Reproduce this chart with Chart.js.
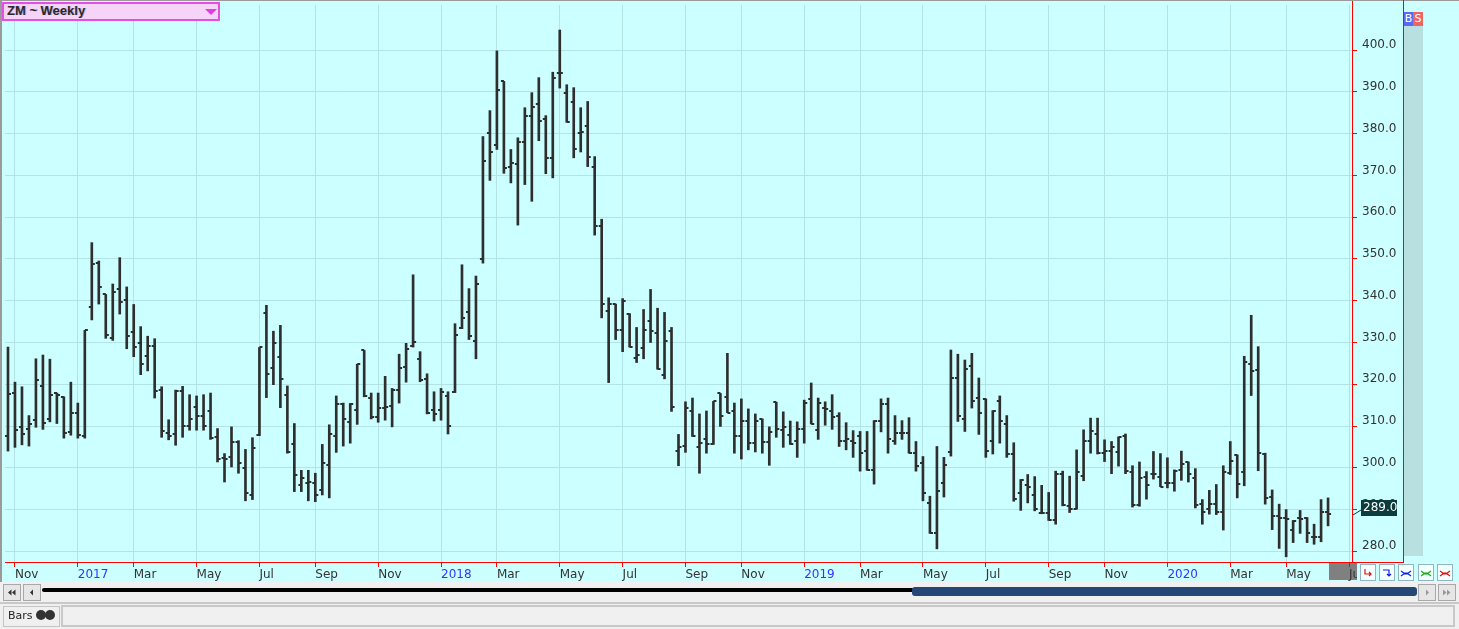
<!DOCTYPE html>
<html lang="en">
  <head>
    <meta charset="UTF-8" />
    <title>ZM ~ Weekly</title>
    <script src="https://cdn.jsdelivr.net/npm/chart.js"></script>
    <style>
      body { margin: 0; background: #f0f0f0; font-family: "DejaVu Sans", sans-serif; }
      #wrap { position: relative; width: 1459px; height: 629px; overflow: hidden; }
      .abs { position: absolute; }
      .btn { position: absolute; box-sizing: border-box; border: 1px solid #a8a8a8; background: #e6e6e6; }
      .sbtn { position: absolute; box-sizing: border-box; width: 16px; height: 17px; top: 1px; border: 1px solid #8fb4c4; background: #f4ffff; }
    </style>
  </head>
  <body>
    <div id="wrap">
      <!-- plot background -->
      <div class="abs" style="left:0;top:0;width:1459px;height:582px;background:#ccffff"></div>
      <div class="abs" style="left:1329px;top:563px;width:28px;height:17px;background:#808080"></div>
      <div class="abs" style="left:1352px;top:0;width:1px;height:563px;background:#ff0000"></div>
      <canvas id="myChart" class="abs" style="left:0;top:0" width="1459" height="629"></canvas>

      <!-- borders -->
      <div class="abs" style="left:0;top:0;width:1459px;height:1px;background:#9a9a9a"></div>
      <div class="abs" style="left:0;top:0;width:2px;height:582px;background:#9a9a9a"></div>
      <div class="abs" style="left:1403px;top:0;width:1px;height:563px;background:#ff0000"></div>
      <div class="abs" style="left:1352px;top:562px;width:52px;height:1px;background:#ff0000"></div>

      <!-- symbol box -->
      <div class="abs" style="left:2px;top:2px;width:214px;height:15px;border:2px solid #e24ee6;background:#f6d4f8"></div>
      <div class="abs" style="left:7px;top:3px;font-family:'Liberation Sans',sans-serif;font-size:13px;font-weight:bold;color:#2a2a2a;text-shadow:1px 0 #c4a8d0">ZM ~ Weekly</div>
      <div class="abs" style="left:205px;top:9px;width:0;height:0;border-left:6px solid transparent;border-right:6px solid transparent;border-top:6px solid #e03ce6"></div>

      <!-- B S strip -->
      <div class="abs" style="left:1404px;top:26px;width:19px;height:530px;background:#b9e0e0"></div>
      <div class="abs" style="left:1404px;top:12px;width:9px;height:14px;background:#5b68f2;color:#fff;font-size:11px;line-height:14px;text-align:center">B</div>
      <div class="abs" style="left:1413px;top:12px;width:10px;height:14px;background:#ee6464;color:#fff;font-size:11px;line-height:14px;text-align:center">S</div>

      <!-- small buttons right of the date axis -->
      <div class="abs" style="left:1357px;top:563px;width:102px;height:19px;background:#ccffff">
        <div class="sbtn" style="left:3px"><svg width="14" height="15"><path d="M4 4 V9 H10 M8 7 L10 9 L8 11" stroke="#e01010" fill="none" stroke-width="1.2"/></svg></div>
        <div class="sbtn" style="left:22px"><svg width="14" height="15"><path d="M3 5 H9 V11 M7 9 L9 11 L11 9" stroke="#1020e0" fill="none" stroke-width="1.2"/></svg></div>
        <div class="sbtn" style="left:41px"><svg width="14" height="15"><path d="M2 6 L6 9 L8 9 L12 6 M2 11 L6 8 L8 8 L12 11" stroke="#1020e0" fill="none" stroke-width="1.2"/></svg></div>
        <div class="sbtn" style="left:61px"><svg width="14" height="15"><path d="M2 6 L6 9 L8 9 L12 6 M2 11 L6 8 L8 8 L12 11" stroke="#10b010" fill="none" stroke-width="1.2"/></svg></div>
        <div class="sbtn" style="left:80px"><svg width="14" height="15"><path d="M2 6 L6 9 L8 9 L12 6 M2 11 L6 8 L8 8 L12 11" stroke="#e01010" fill="none" stroke-width="1.2"/></svg></div>
      </div>

      <!-- scroll bar -->
      <div class="abs" style="left:0;top:582px;width:1459px;height:20px;background:#f0f0f0"></div>
      <div class="btn" style="left:3px;top:584px;width:18px;height:17px"><svg width="16" height="15"><path d="M4 7.5 L7.5 4.5 V10.5 Z M8 7.5 L11.5 4.5 V10.5 Z" fill="#333"/></svg></div>
      <div class="btn" style="left:23px;top:584px;width:18px;height:17px"><svg width="16" height="15"><path d="M6 7.5 L9 4.5 V10.5 Z" fill="#333"/></svg></div>
      <div class="abs" style="left:42px;top:588px;width:872px;height:4px;background:#000;border-radius:2px"></div>
      <div class="abs" style="left:912px;top:587px;width:505px;height:9px;background:#244775;border-radius:3px"></div>
      <div class="btn" style="left:1418px;top:584px;width:18px;height:17px"><svg width="16" height="15"><path d="M7 4.5 L10 7.5 L7 10.5 Z" fill="#999"/></svg></div>
      <div class="btn" style="left:1438px;top:584px;width:18px;height:17px"><svg width="16" height="15"><path d="M4 4.5 L7.5 7.5 L4 10.5 Z M8 4.5 L11.5 7.5 L8 10.5 Z" fill="#999"/></svg></div>

      <!-- bottom panel -->
      <div class="abs" style="left:0;top:602px;width:1459px;height:2px;background:#c8c8c8"></div>
      <div class="abs" style="left:3px;top:606px;width:55px;height:19px;border:1px solid #c4c4c4;background:#f0f0f0"></div>
      <div class="abs" style="left:8px;top:609px;font-size:11px;color:#222">Bars</div>
      <div class="abs" style="left:36px;top:610px;width:10px;height:10px;border-radius:50%;background:#333"></div>
      <div class="abs" style="left:45px;top:610px;width:10px;height:10px;border-radius:50%;background:#333"></div>
      <div class="abs" style="left:61px;top:605px;width:1390px;height:18px;border:2px solid #c8c8c8;background:#f0f0f0"></div>
    </div>

    <script>
      // weekly OHLC, first bar = week ending 2016-10-28
      const opens = [
        307.5, 317.9, 309.7, 309.4, 311.5, 319.5, 311.6, 317.8, 317.0, 308.5,
        313.2, 307.5, 338.5, 349.1, 341.5, 331.0, 342.8, 340.2, 332.4, 329.8,
        326.8, 329.2, 318.6, 308.4, 308.2, 318.3, 309.9, 314.5, 312.3, 313.7,
        307.3, 302.3, 302.7, 306.1, 299.9, 293.6, 307.9, 337.1, 324.0, 326.6,
        317.5, 305.6, 296.0, 296.3, 296.3, 294.8, 300.6, 307.5, 315.2, 310.9,
        313.9, 328.1, 316.8, 312.2, 314.4, 314.7, 318.7, 324.2, 329.2, 326.1,
        321.3, 313.9, 313.8, 317.1, 318.2, 333.5, 337.3, 330.4, 349.9, 380.2,
        377.3, 392.5, 372.0, 372.7, 378.0, 384.1, 387.1, 383.5, 374.2, 394.6,
        389.7, 387.5, 380.1, 381.8, 372.1, 358.0, 337.5, 339.2, 332.9, 336.9,
        326.3, 328.7, 335.1, 332.3, 322.3, 332.7, 304.0, 305.2, 313.6, 305.1,
        306.8, 305.6, 317.8, 317.0, 313.5, 307.5, 311.1, 305.9, 311.6, 306.1,
        315.7, 309.0, 307.8, 306.4, 309.4, 316.4, 309.1, 314.4, 313.6, 312.3,
        306.4, 306.4, 307.5, 304.0, 299.4, 311.3, 315.2, 306.3, 308.3, 308.3,
        303.5, 301.1, 291.6, 284.4, 296.3, 303.7, 321.6, 311.8, 324.4, 316.6,
        316.5, 306.3, 316.1, 310.6, 303.3, 294.0, 295.9, 293.6, 289.3, 289.3,
        287.6, 298.5, 290.9, 290.1, 298.0, 306.3, 308.2, 303.5, 304.1, 303.9,
        307.6, 298.9, 291.0, 297.9, 298.5, 297.9, 296.4, 296.4, 299.4, 301.4,
        297.5, 291.3, 290.2, 291.4, 289.4, 298.7, 303.1, 299.0, 324.8, 323.4,
        303.2, 293.0, 288.4, 288.1, 285.1, 288.1, 288.1, 283.5, 283.5, 289.4
      ];
      const highs = [
        328.9, 320.5, 319.4, 312.5, 326.1, 327.0, 326.0, 317.9, 317.0, 320.5,
        315.5, 332.9, 353.9, 349.5, 341.5, 344.0, 350.3, 343.3, 339.1, 333.8,
        331.5, 330.9, 319.4, 311.5, 318.6, 319.5, 317.5, 317.2, 317.5, 317.9,
        309.4, 303.4, 309.8, 306.5, 304.4, 307.2, 328.8, 338.9, 332.7, 334.1,
        319.6, 310.6, 299.4, 299.4, 298.7, 305.6, 310.3, 317.2, 315.5, 315.4,
        324.8, 328.1, 317.9, 317.9, 321.9, 319.0, 327.2, 329.8, 346.2, 327.8,
        322.5, 318.2, 319.0, 318.2, 334.5, 348.6, 342.9, 345.9, 379.3, 385.5,
        399.8, 392.5, 376.2, 379.0, 386.2, 389.8, 393.4, 384.3, 394.7, 404.8,
        391.7, 391.0, 386.2, 387.7, 374.5, 359.5, 340.7, 339.2, 340.5, 336.9,
        333.6, 337.9, 342.7, 338.2, 337.2, 333.6, 308.0, 315.8, 316.7, 312.9,
        313.6, 315.9, 317.8, 327.4, 315.5, 316.5, 314.1, 312.9, 311.7, 309.8,
        315.7, 313.4, 311.2, 311.0, 316.2, 320.3, 316.7, 315.8, 317.5, 313.2,
        310.8, 308.9, 308.7, 308.7, 311.3, 316.5, 316.7, 312.5, 311.3, 312.0,
        306.3, 302.7, 293.2, 305.1, 302.5, 328.2, 327.2, 325.8, 327.4, 321.5,
        316.5, 313.7, 317.2, 312.5, 306.0, 297.2, 298.4, 297.9, 295.8, 294.1,
        299.2, 299.2, 298.0, 304.3, 309.1, 311.9, 311.9, 306.7, 306.3, 307.4,
        308.1, 300.5, 301.4, 299.1, 303.9, 303.4, 302.4, 299.5, 304.0, 301.4,
        299.8, 292.4, 294.6, 296.0, 300.5, 306.3, 303.1, 326.7, 336.5, 329.0,
        303.5, 294.7, 291.3, 290.0, 287.4, 289.8, 288.1, 286.5, 292.4, 292.8
      ];
      const lows = [
        304.0, 304.9, 305.5, 305.2, 309.7, 309.2, 311.0, 310.6, 307.1, 307.8,
        307.1, 307.1, 335.4, 339.2, 331.0, 330.5, 336.8, 328.5, 326.6, 322.3,
        323.2, 316.7, 307.3, 306.7, 305.4, 307.3, 309.0, 309.0, 309.0, 306.8,
        301.4, 296.6, 300.2, 298.7, 292.1, 292.4, 307.7, 316.8, 319.9, 314.4,
        303.5, 294.3, 294.3, 292.1, 291.9, 293.5, 292.8, 303.7, 305.2, 305.9,
        310.4, 317.0, 311.7, 310.9, 311.4, 309.8, 315.5, 320.5, 328.9, 320.6,
        312.9, 311.2, 311.4, 308.1, 318.0, 333.3, 330.7, 326.1, 349.0, 368.8,
        376.2, 370.5, 368.2, 358.1, 367.8, 363.8, 378.3, 370.4, 369.4, 390.9,
        382.7, 374.2, 375.6, 372.1, 355.7, 335.9, 320.4, 330.7, 327.8, 328.9,
        325.2, 326.1, 330.0, 323.6, 321.3, 313.5, 300.5, 303.7, 307.5, 298.7,
        303.5, 305.6, 309.9, 313.2, 303.5, 302.1, 304.3, 303.8, 303.5, 300.6,
        307.3, 304.9, 305.6, 302.5, 305.9, 310.5, 306.8, 310.2, 309.2, 305.1,
        304.3, 302.5, 299.2, 299.4, 296.1, 308.6, 303.5, 305.6, 306.8, 303.5,
        299.2, 292.1, 284.3, 280.6, 293.0, 302.8, 311.1, 308.7, 314.3, 308.0,
        302.5, 303.3, 305.9, 302.5, 292.0, 289.8, 291.6, 289.7, 289.0, 287.4,
        286.5, 290.9, 289.3, 290.1, 296.9, 303.5, 303.3, 301.5, 298.6, 300.4,
        298.6, 290.6, 290.8, 292.5, 297.3, 295.5, 295.2, 294.4, 297.0, 296.6,
        290.4, 286.5, 288.9, 288.8, 285.1, 298.4, 292.8, 295.7, 317.3, 299.3,
        291.3, 285.2, 280.7, 278.7, 282.1, 284.3, 282.1, 281.7, 282.3, 286.1
      ];
      const closes = [
        317.6, 309.0, 308.1, 310.6, 321.1, 310.8, 317.5, 317.5, 308.3, 313.0,
        307.8, 332.9, 348.9, 343.3, 331.7, 342.2, 339.8, 331.6, 329.0, 324.9,
        329.2, 318.4, 308.7, 307.5, 318.3, 309.9, 311.8, 312.5, 309.9, 307.2,
        302.0, 302.0, 306.1, 301.1, 294.0, 304.7, 328.8, 322.5, 329.9, 321.2,
        303.7, 298.2, 297.5, 296.6, 293.4, 301.2, 308.2, 315.2, 311.8, 315.2,
        324.8, 317.1, 312.2, 314.2, 314.6, 318.6, 324.0, 328.5, 330.1, 320.9,
        313.0, 312.8, 318.2, 310.0, 331.8, 335.9, 331.6, 344.0, 373.5, 375.6,
        390.4, 371.8, 373.0, 378.0, 384.1, 386.3, 382.9, 374.2, 393.3, 394.4,
        382.7, 376.3, 380.4, 374.4, 358.0, 339.2, 339.2, 332.9, 339.9, 328.9,
        327.1, 333.0, 332.7, 323.7, 330.3, 314.5, 305.0, 314.4, 307.5, 306.0,
        305.6, 315.9, 312.5, 313.2, 307.5, 311.3, 305.9, 311.1, 306.1, 308.5,
        309.4, 309.7, 305.7, 309.2, 315.5, 310.6, 315.4, 314.1, 312.1, 306.4,
        306.9, 305.9, 303.5, 299.4, 311.1, 315.2, 306.8, 308.3, 308.3, 303.5,
        300.4, 294.0, 284.4, 294.4, 300.6, 321.6, 312.5, 323.7, 315.9, 313.2,
        304.0, 313.6, 311.3, 303.3, 292.5, 297.1, 295.4, 290.1, 289.3, 287.6,
        298.5, 291.2, 290.1, 298.9, 306.3, 308.7, 303.5, 304.1, 305.1, 307.4,
        299.2, 291.0, 297.5, 295.9, 298.5, 295.5, 296.4, 299.2, 300.9, 298.5,
        291.1, 289.4, 291.4, 289.4, 299.0, 301.6, 296.2, 325.4, 323.2, 303.5,
        292.8, 288.4, 288.1, 287.8, 287.2, 287.8, 284.5, 283.5, 289.4, 289.0
      ];

      // first bar of each month (bar index) and its label
      const monthTicks = [1, 10, 18, 27, 36, 44, 53, 62, 70, 79, 88, 97, 105, 114, 122, 131, 140, 149, 157, 166, 175, 183, 192];
      const monthLabels = ["Nov", "2017", "Mar", "May", "Jul", "Sep", "Nov", "2018", "Mar", "May", "Jul", "Sep", "Nov", "2019", "Mar", "May", "Jul", "Sep", "Nov", "2020", "Mar", "May", "Jul"];
      const priceTicks = [280, 290, 300, 310, 320, 330, 340, 350, 360, 370, 380, 390, 400];

      const barColor = "#2e2e2e";
      const gridColor = "#b3e3e5";

      // little open / close ticks as point images
      function tickImage(side) {
        const cv = document.createElement("canvas");
        cv.width = 10;
        cv.height = 2;
        const g = cv.getContext("2d");
        g.fillStyle = barColor;
        if (side === "left") g.fillRect(2, 0, 3, 2);
        else g.fillRect(5, 0, 3, 2);
        return cv;
      }
      const openImg = tickImage("left");
      const closeImg = tickImage("right");

      const idx = opens.map(function (v, i) { return i; });

      const lastPrice = {
        id: "lastPrice",
        afterDraw(chart) {
          const c = chart.ctx;
          const y = chart.scales.y;
          const last = closes[closes.length - 1];
          const py = Math.round(y.getPixelForValue(last));
          const px = y.left;
          c.save();
          c.strokeStyle = "#0c3c3c";
          c.lineWidth = 1;
          c.beginPath();
          c.moveTo(px + 1, py + 1);
          c.lineTo(px + 9, py - 4);
          c.stroke();
          c.fillStyle = "#0c3c3c";
          c.fillRect(px + 9, py - 14, 36, 16);
          c.fillStyle = "#ffffff";
          c.font = '12px "DejaVu Sans"';
          c.textBaseline = "middle";
          c.fillText(last.toFixed(1), px + 11, py - 6);
          c.restore();
        },
      };

      function noPad(scale) {
        scale.paddingTop = 0;
        scale.paddingBottom = 0;
        scale.paddingLeft = 0;
        scale.paddingRight = 0;
      }

      const ctx = document.querySelector("#myChart");
      const chart = new Chart(ctx, {
        data: {
          datasets: [
            {
              type: "bar",
              data: idx.map(function (i) { return { x: i, y: [lows[i], highs[i]] }; }),
              backgroundColor: barColor,
              borderWidth: 0,
              barThickness: 2,
              grouped: false,
            },
            {
              type: "scatter",
              data: idx.map(function (i) { return { x: i, y: opens[i] }; }),
              pointStyle: openImg,
              pointRadius: 3,
            },
            {
              type: "scatter",
              data: idx.map(function (i) { return { x: i, y: closes[i] }; }),
              pointStyle: closeImg,
              pointRadius: 3,
            },
          ],
        },
        options: {
          responsive: false,
          animation: false,
          devicePixelRatio: 1,
          events: [],
          layout: { padding: { left: 2, top: 2, right: 56, bottom: 47 } },
          plugins: { legend: { display: false }, tooltip: { enabled: false } },
          scales: {
            x: {
              type: "linear",
              offset: false,
              min: -3 / 7,
              max: -3 / 7 + 1350 / 7,
              afterBuildTicks: function (scale) {
                scale.ticks = monthTicks.map(function (v) { return { value: v }; });
              },
              afterFit: function (scale) {
                scale.height = 20;
                noPad(scale);
              },
              ticks: {
                autoSkip: false,
                maxRotation: 0,
                minRotation: 0,
                align: "start",
                padding: 1,
                font: { family: "DejaVu Sans", size: 12 },
                color: function (c) { return monthLabels[c.index].length === 4 ? "#3434ff" : "#333333"; },
                callback: function (value, index) { return monthLabels[index]; },
              },
              grid: { offset: false, color: gridColor, tickColor: "#ff0000", tickLength: 5 },
              border: { color: "#ff0000", width: 1 },
            },
            y: {
              type: "linear",
              position: "right",
              min: 280 - 10.7 / 4.2,
              max: 280 - 10.7 / 4.2 + 560 / 4.2,
              afterBuildTicks: function (scale) {
                scale.ticks = priceTicks.map(function (v) { return { value: v }; });
              },
              afterFit: function (scale) {
                scale.width = 51;
                noPad(scale);
              },
              ticks: {
                padding: 5,
                labelOffset: -5,
                font: { family: "DejaVu Sans", size: 12 },
                color: "#333333",
                callback: function (value) { return value.toFixed(1); },
              },
              grid: { color: gridColor, tickColor: "#ff0000", tickLength: 5 },
              border: { color: "#ff0000", width: 1 },
            },
          },
        },
        plugins: [lastPrice],
      });
    </script>
  </body>
</html>
